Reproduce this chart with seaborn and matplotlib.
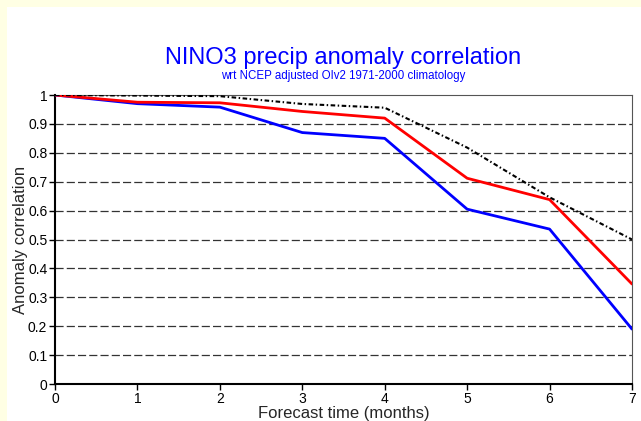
import matplotlib
matplotlib.use("Agg")
import matplotlib.pyplot as plt
import numpy as np
import pandas as pd
import seaborn as sns
from matplotlib.patches import Rectangle

# forecast lead (months) and anomaly correlation per series
months = [0, 1, 2, 3, 4, 5, 6, 7]
black_acc = [1.0, 0.998, 0.996, 0.969, 0.956, 0.818, 0.646, 0.50]
red_acc = [1.0, 0.975, 0.973, 0.943, 0.920, 0.712, 0.638, 0.346]
blue_acc = [1.0, 0.970, 0.958, 0.870, 0.850, 0.605, 0.536, 0.190]
yticks = [0, 0.1, 0.2, 0.3, 0.4, 0.5, 0.6, 0.7, 0.8, 0.9, 1]
ytick_labels = ["0", "0.1", "0.2", "0.3", "0.4", "0.5", "0.6", "0.7", "0.8", "0.9", "1"]

sns.set_style("ticks")
plt.rcParams["font.family"] = ["Liberation Sans", "DejaVu Sans"]

W, H = 641, 421
fig = plt.figure(figsize=(W / 100, H / 100), dpi=100)
fig.patch.set_facecolor("#FFFFE4")
fig.patches.append(Rectangle((7 / W, 0), 1, (H - 7) / H, transform=fig.transFigure,
                             facecolor="white", edgecolor="none", zorder=-5))

ax = fig.add_axes([55 / W, (H - 384) / H, (632 - 55) / W, (384 - 95) / H])
ax.set_facecolor("white")

for y in yticks[1:-1]:
    ax.axhline(y, color="#333333", lw=0.9, ls=(0, (6.5, 2.5)), zorder=1)

df = pd.DataFrame({"month": months, "blue": blue_acc, "red": red_acc, "black": black_acc})
sns.lineplot(data=df, x="month", y="blue", color="#0000FF", lw=2.0, ax=ax, zorder=3)
sns.lineplot(data=df, x="month", y="red", color="#FF0000", lw=2.0, ax=ax, zorder=3)
sns.lineplot(data=df, x="month", y="black", color="black", lw=1.5,
             ls=(0, (2.2, 1.2, 0.7, 1.2)), ax=ax, zorder=4)

ax.set_xlim(0, 7)
ax.set_ylim(0, 1)
ax.set_xticks(months)
ax.set_xticklabels([str(m) for m in months])
ax.set_yticks(yticks)
ax.set_yticklabels(ytick_labels)
ax.tick_params(axis="both", direction="out", length=4, width=1, labelsize=10,
               colors="black", pad=1.5)
for s in ax.spines.values():
    s.set_color("#555555")
    s.set_linewidth(0.8)
ax.spines["left"].set_color("black")
ax.spines["bottom"].set_color("black")
ax.spines["left"].set_linewidth(1.5)
ax.spines["bottom"].set_linewidth(1.5)

ax.set_xlabel("Forecast time (months)", fontsize=12, labelpad=0)
ax.set_ylabel("Anomaly correlation", fontsize=12, labelpad=0)

fig.text(343 / W, 1 - 58 / H, "NINO3 precip anomaly correlation", color="#0000FF",
         fontsize=17, ha="center", va="center")
fig.text(343 / W, 1 - 76 / H, "wrt NCEP adjusted OIv2 1971-2000 climatology", color="#0000FF",
         fontsize=8.3, ha="center", va="center")

fig.savefig("out.png", dpi=100, facecolor=fig.get_facecolor())
